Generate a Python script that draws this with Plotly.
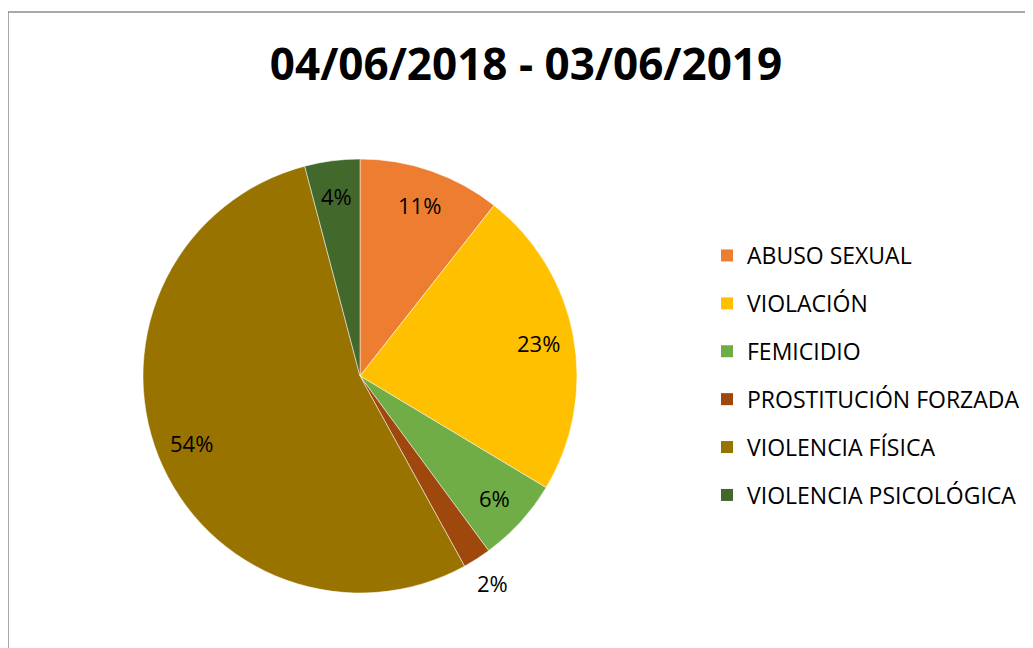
import math
import plotly.graph_objects as go

W, H = 1033, 648
OFF = 8  # page body margin in the browser

title_text = "04/06/2018 - 03/06/2019"
categories = ["ABUSO SEXUAL", "VIOLACIÓN", "FEMICIDIO", "PROSTITUCIÓN FORZADA",
              "VIOLENCIA FÍSICA", "VIOLENCIA PSICOLÓGICA"]
values = [10.6, 23.0, 6.3, 2.1, 53.9, 4.1]
colors = ["#ED7D31", "#FFC000", "#70AD47", "#9E480E", "#997300", "#43682B"]
label_outside = [False, False, False, True, False, False]

FONT = "Open Sans"


def fx(px):
    return (px - OFF) / W


def fy(py):
    return 1 - (py - OFF) / H


fig = go.Figure()

# pie centre (360, 376) px, radius ~217 px (page coordinates)
cx, cy, r = 360, 376, 217
fig.add_trace(go.Pie(
    labels=categories,
    values=values,
    marker=dict(colors=colors, line=dict(color="white", width=0.5)),
    sort=False,
    direction="clockwise",
    rotation=0,
    textinfo="none",
    showlegend=False,
    domain=dict(x=[fx(cx - r), fx(cx + r)], y=[fy(cy + r), fy(cy - r)]),
))

# data labels placed like Excel's (percent text at ~0.83 of radius)
total = sum(values)
cum = 0.0
annotations = []
for v, out in zip(values, label_outside):
    mid = (cum + v / 2) / total * 2 * math.pi
    cum += v
    f = 1.13 if out else 0.835
    px = cx + f * r * math.sin(mid)
    py = cy - f * r * math.cos(mid)
    annotations.append(dict(
        x=fx(px), y=fy(py), xref="paper", yref="paper",
        text=f"{round(v / total * 100):d}%", showarrow=False,
        xanchor="center", yanchor="middle",
        font=dict(family=FONT, size=22, color="#000000"),
    ))

# legend entries as dummy traces so spacing can be controlled
for cat, col in zip(categories, colors):
    fig.add_trace(go.Scatter(
        x=[None], y=[None], mode="markers", name=cat, legendgroup=cat,
        marker=dict(symbol="square", size=16, color=col),
        showlegend=True, hoverinfo="skip",
    ))

fig.update_layout(
    width=W, height=H,
    margin=dict(l=0, r=0, t=0, b=0),
    paper_bgcolor="white", plot_bgcolor="white",
    title=dict(text="<b>" + title_text + "</b>", x=fx(526), xanchor="center",
               y=fy(65), yanchor="middle", yref="container",
               font=dict(family=FONT, size=44, color="#000000")),
    xaxis=dict(visible=False), yaxis=dict(visible=False),
    legend=dict(x=fx(707), xanchor="left", y=fy(234), yanchor="top",
                font=dict(family=FONT, size=23, color="#000000"),
                tracegroupgap=15, traceorder="grouped",
                itemsizing="constant", bgcolor="rgba(0,0,0,0)"),
    annotations=annotations,
    shapes=[
        dict(type="line", xref="paper", yref="paper", x0=fx(8), x1=1.02,
             y0=fy(12), y1=fy(12), line=dict(color="#8c8c8c", width=1.5)),
        dict(type="line", xref="paper", yref="paper", x0=fx(8), x1=fx(8),
             y0=fy(12), y1=-0.02, line=dict(color="#8c8c8c", width=1.5)),
    ],
)

fig.write_html("out.html")
